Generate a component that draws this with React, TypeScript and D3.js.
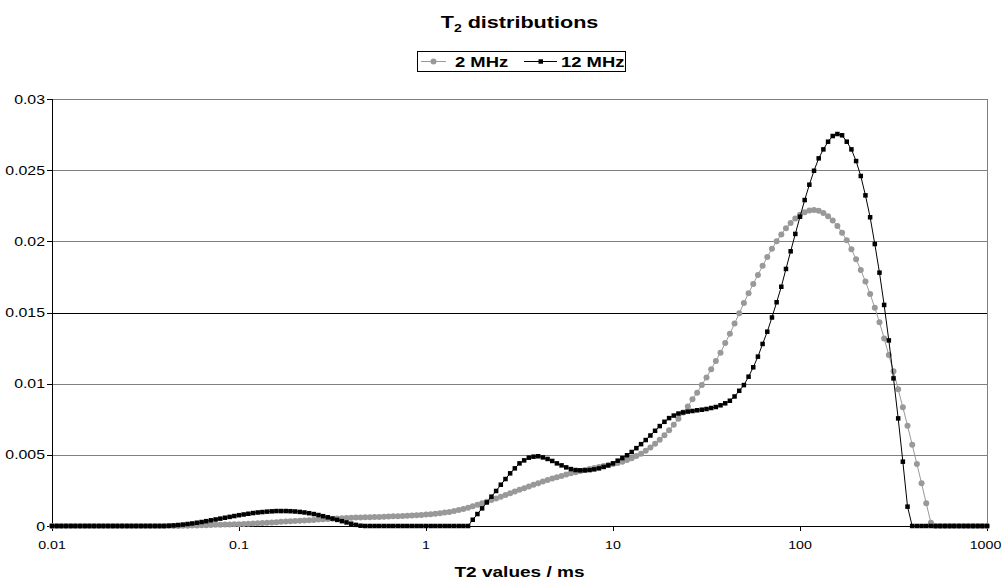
import React from "react";
import * as d3 from "d3";

// T2 grid: 201 log-spaced samples from 0.01 to 1000 ms (40 per decade)
const STEPS_PER_DECADE = 40;
const T2_VALUES: number[] = d3.range(201).map((i) => Math.pow(10, -2 + i / STEPS_PER_DECADE));

const SERIES_2MHZ: number[] = [
  0,0,0,0,0,0,0,0,0,0, 0,0,0,0,0,0,0,0,0,0, 0,0,0,0,0,0,0,0,
  0.00001,0.00002,0.00003,0.00004,0.00005,0.00006,0.00007,0.00008,0.00009,0.0001,
  0.00011,0.00012,0.00013,0.00014,0.00015,0.00017,0.00019,0.00021,0.00023,0.00025,
  0.00027,0.00029,0.00031,0.00033,0.00035,0.00037,0.00039,0.00041,0.00043,0.00045,
  0.00047,0.00049,0.00051,0.00053,0.00055,0.00057,0.00058,0.00059,0.0006,0.00061,
  0.00062,0.00063,0.00064,0.00065,0.00066,0.00068,0.00069,0.0007,0.00072,0.00073,
  0.00075,0.00077,0.0008,0.00083,0.00086,0.0009,0.00094,0.00099,0.00105,0.00112,
  0.0012,0.00129,0.00139,0.00149,0.0016,0.00171,0.00182,0.00194,0.00206,0.00218,
  0.0023,0.00242,0.00254,0.00266,0.00278,0.0029,0.00301,0.00312,0.00323,0.00333,
  0.00343,0.00352,0.00361,0.0037,0.00378,0.00386,0.00394,0.00401,0.00408,0.00415,
  0.00421,0.00428,0.00435,0.00443,0.00452,0.00463,0.00476,0.00491,0.00508,0.00528,
  0.00551,0.00577,0.00606,0.00638,0.00673,0.00712,0.00754,0.00797,0.0084,0.0089,
  0.00937,0.00991,0.01044,0.01101,0.0116,0.01218,0.01285,0.0135,0.01422,0.01494,
  0.01567,0.01635,0.01701,0.01764,0.01828,0.0189,0.01948,0.02,0.02048,0.02092,
  0.02129,0.0216,0.02186,0.02204,0.02216,0.0222,0.02214,0.02199,0.02177,0.02147,
  0.02108,0.02061,0.02007,0.01944,0.01874,0.01799,0.01717,0.0163,0.01533,0.01432,
  0.01318,0.01201,0.01087,0.0096,0.00834,0.00705,0.00571,0.00436,0.003,0.00159,
  0.00023,
  0,0,0,0,0,0,0,0,0,0,0,0,
];

const SERIES_12MHZ: number[] = [
  0,0,0,0,0,0,0,0,0,0, 0,0,0,0,0,0,0,0,0,0, 0,0,0,0,0,
  0.00002,0.00004,0.00007,0.0001,0.00014,0.00018,0.00023,0.00028,0.00034,0.0004,
  0.00046,0.00052,0.00058,0.00064,0.0007,0.00076,0.00081,0.00086,0.00091,0.00095,
  0.00098,0.00101,0.00103,0.00105,0.00105,0.00105,0.00104,0.00102,0.00099,0.00095,
  0.0009,0.00084,0.00077,0.00069,0.00061,0.00052,0.00043,0.00034,0.00025,0.00016,
  0.00008,0.00002,
  0,0,0,0,0,0,0,0,0,0, 0,0,0,0,0,0,0,0,0,0, 0,0,0,
  0.00044,0.00084,0.00124,0.00166,0.00206,0.00246,0.0029,0.0033,0.0037,0.00405,
  0.0044,0.00461,0.0048,0.00487,0.0049,0.00482,0.00471,0.00457,0.0044,0.00426,
  0.00412,0.004,0.00393,0.00391,0.00391,0.00393,0.00398,0.00405,0.00415,0.00426,
  0.0044,0.00459,0.00477,0.00497,0.0052,0.00547,0.00575,0.00604,0.00636,0.00669,
  0.00702,0.00732,0.00758,0.00776,0.0079,0.00798,0.00804,0.00808,0.00813,0.00817,
  0.00822,0.00829,0.00836,0.00848,0.00862,0.0088,0.0091,0.0095,0.0099,0.01049,
  0.01115,0.0119,0.01279,0.01365,0.01465,0.01572,0.01681,0.01806,0.0193,0.02052,
  0.02173,0.0229,0.02398,0.02496,0.02583,0.02646,0.027,0.0274,0.02754,0.02745,
  0.027,0.02646,0.02564,0.02459,0.02323,0.02169,0.01981,0.0178,0.01553,0.01304,
  0.01037,0.00756,0.00452,0.00136,
  0,0,0,0,0,0,0,0,0,0, 0,0,0,0,0,0,0,
];

const Y_TICKS: number[] = [0, 0.005, 0.01, 0.015, 0.02, 0.025, 0.03];
const Y_TICK_LABELS: string[] = ["0", "0.005", "0.01", "0.015", "0.02", "0.025", "0.03"];
const X_TICKS: number[] = [0.01, 0.1, 1, 10, 100, 1000];
const X_TICK_LABELS: string[] = ["0.01", "0.1", "1", "10", "100", "1000"];

const W = 1003;
const H = 586;
const PL = 52;
const PR = 987;
const PT = 99;
const PB = 526;
const FONT = "'Liberation Sans', Arial, sans-serif";
const GRAY = "#999999";
const SX = 1.27; // horizontal stretch of the reference's text

function SText(props: {
  x: number;
  y: number;
  anchor?: "start" | "middle" | "end";
  size: number;
  bold?: boolean;
  children: React.ReactNode;
}) {
  return (
    <text
      transform={`translate(${props.x},${props.y}) scale(${SX},1)`}
      textAnchor={props.anchor || "start"}
      fontSize={props.size}
      fontWeight={props.bold ? "bold" : "normal"}
    >
      {props.children}
    </text>
  );
}

export default function App() {
  const x = d3.scaleLog().domain([0.01, 1000]).range([PL, PR]);
  const y = d3.scaleLinear().domain([0, 0.03]).range([PB, PT]);

  const line = d3
    .line<[number, number]>()
    .x((d) => x(d[0]))
    .y((d) => y(d[1]));

  const g2 = T2_VALUES.map((t, i) => [t, SERIES_2MHZ[i]] as [number, number]);
  const g12 = T2_VALUES.map((t, i) => [t, SERIES_12MHZ[i]] as [number, number]);

  const cx = (PL + PR) / 2;
  const legY = 61.5;

  return (
    <svg
      width={W}
      height={H}
      style={{ position: "absolute", left: 0, top: 0, background: "#fff" }}
      fontFamily={FONT}
    >
      <rect x={0} y={0} width={W} height={H} fill="#fff" />
      {/* Title */}
      <SText x={cx} y={28} anchor="middle" size={17} bold>
        T<tspan fontSize={11} dy={4}>2</tspan>
        <tspan dy={-4}> distributions</tspan>
      </SText>

      {/* Legend */}
      <rect x={417.5} y={51.5} width={208} height={20} fill="#fff" stroke="#000" strokeWidth={1} />
      <line x1={421} x2={446} y1={legY} y2={legY} stroke={GRAY} strokeWidth={1} />
      <circle cx={433.5} cy={legY} r={3} fill={GRAY} />
      <SText x={455} y={legY + 5.5} size={14.5} bold>2 MHz</SText>
      <line x1={524} x2={557} y1={legY} y2={legY} stroke="#000" strokeWidth={1} />
      <rect x={538.5} y={legY - 2.25} width={4.5} height={4.5} fill="#000" />
      <SText x={561} y={legY + 5.5} size={14.5} bold>12 MHz</SText>

      {/* Gridlines */}
      {Y_TICKS.filter((v) => v > 0).map((v) => (
        <line
          key={"g" + v}
          x1={PL}
          x2={PR}
          y1={Math.round(y(v)) + 0.5}
          y2={Math.round(y(v)) + 0.5}
          stroke={v === 0.015 ? "#000" : "#808080"}
          strokeWidth={1}
        />
      ))}
      <line x1={PR + 0.5} x2={PR + 0.5} y1={PT} y2={PB} stroke="#808080" strokeWidth={1} />

      {/* Axes */}
      <line x1={PL + 0.5} x2={PL + 0.5} y1={PT} y2={PB + 0.5} stroke="#000" strokeWidth={1} />
      <line x1={PL} x2={PR + 1} y1={PB + 0.5} y2={PB + 0.5} stroke="#000" strokeWidth={1} />
      {Y_TICKS.map((v, i) => (
        <g key={"yt" + v}>
          <line x1={PL - 5} x2={PL} y1={Math.round(y(v)) + 0.5} y2={Math.round(y(v)) + 0.5} stroke="#000" />
          <SText x={PL - 7} y={y(v) + 4.5} anchor="end" size={12.5}>
            {Y_TICK_LABELS[i]}
          </SText>
        </g>
      ))}
      {X_TICKS.map((v, i) => (
        <g key={"xt" + v}>
          <line x1={Math.round(x(v)) + 0.5} x2={Math.round(x(v)) + 0.5} y1={PB} y2={PB + 5} stroke="#000" />
          <SText x={Math.min(x(v), 985.5)} y={549} anchor="middle" size={11.2}>
            {X_TICK_LABELS[i]}
          </SText>
        </g>
      ))}
      <SText x={cx} y={577} anchor="middle" size={15} bold>
        T2 values / ms
      </SText>

      {/* 2 MHz series */}
      <path d={line(g2) || ""} fill="none" stroke={GRAY} strokeWidth={1} />
      {g2.map((d, i) => (
        <circle key={"c" + i} cx={x(d[0])} cy={y(d[1])} r={3} fill={GRAY} />
      ))}

      {/* 12 MHz series */}
      <path d={line(g12) || ""} fill="none" stroke="#000" strokeWidth={1} />
      {g12.map((d, i) => (
        <rect key={"s" + i} x={x(d[0]) - 2.25} y={y(d[1]) - 2.25} width={4.5} height={4.5} fill="#000" />
      ))}
    </svg>
  );
}
